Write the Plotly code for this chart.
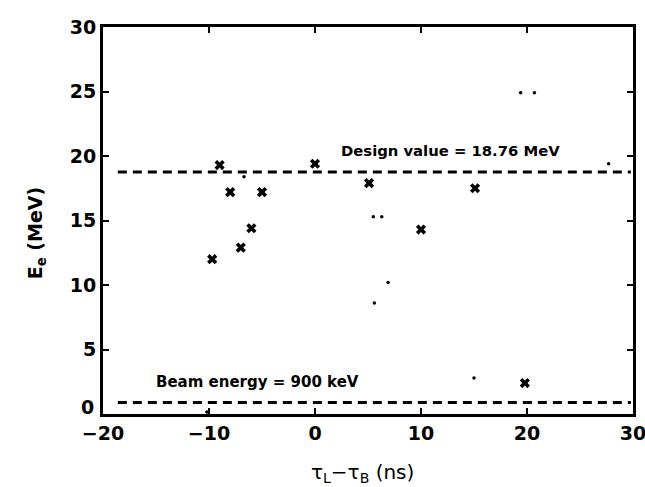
import plotly.graph_objects as go

# Data
cross_x = [-9.7, -9.0, -8.0, -7.0, -6.0, -5.0, 0.0, 5.1, 10.0, 15.1, 19.8]
cross_y = [12.0, 19.3, 17.2, 12.9, 14.4, 17.2, 19.4, 17.9, 14.3, 17.5, 2.4]
dot_x = [5.5, 6.3, 6.9, 5.6, 15.0, 19.4, 20.7, 27.7, -6.7, -10.2]
dot_y = [15.3, 15.3, 10.2, 8.6, 2.8, 24.9, 24.9, 19.4, 18.4, 0.15]
design_value = 18.76
beam_energy = 0.9
line_x = [-18.6, 29.8]
x_ticks = [-20, -10, 0, 10, 20, 30]
y_ticks = [0, 5, 10, 15, 20, 25, 30]

fig = go.Figure()
fig.add_trace(go.Scatter(x=line_x, y=[design_value] * 2, mode="lines",
                         line=dict(color="black", width=3, dash="9px,6px"), hoverinfo="skip"))
fig.add_trace(go.Scatter(x=line_x, y=[beam_energy] * 2, mode="lines",
                         line=dict(color="black", width=3, dash="9px,6px"), hoverinfo="skip"))
fig.add_trace(go.Scatter(x=cross_x, y=cross_y, mode="markers",
                         marker=dict(symbol="x", size=9, color="black", line=dict(width=0))))
fig.add_trace(go.Scatter(x=dot_x, y=dot_y, mode="markers",
                         marker=dict(symbol="circle", size=3.5, color="black")))

fig.add_annotation(x=12.8, y=20.4, text="<b>Design value = 18.76 MeV</b>", showarrow=False,
                   font=dict(size=14.8, family="DejaVu Sans", color="black"))
fig.add_annotation(x=-5.4, y=2.5, text="<b>Beam energy = 900 keV</b>", showarrow=False,
                   font=dict(size=15, family="DejaVu Sans", color="black"))
# axis titles placed as annotations to match their positions
fig.add_annotation(xref="paper", yref="paper", x=-0.153, y=0.468, textangle=-90,
                   text="<b>E<sub>e</sub> (MeV)</b>", showarrow=False,
                   font=dict(size=19, family="DejaVu Sans", color="black"))
fig.add_annotation(xref="paper", yref="paper", x=0.49, y=-0.152, yanchor="middle",
                   text="τ<sub>L</sub>−τ<sub>B</sub> (ns)", showarrow=False,
                   font=dict(size=20, family="DejaVu Sans", color="black"))
# the "0" y label sits slightly raised in the reference
fig.add_annotation(xref="paper", yref="y", x=-0.013, xanchor="right", y=y_ticks[0], yshift=7,
                   text=str(y_ticks[0]), showarrow=False,
                   font=dict(size=19, family="DejaVu Sans", color="black", weight="bold"))

axis_common = dict(showgrid=False, zeroline=False, showline=True, linewidth=3, linecolor="black",
                   mirror="ticks", ticks="inside", ticklen=6, tickwidth=2, tickcolor="black",
                   automargin=False, ticklabeloverflow="allow",
                   tickfont=dict(size=19, family="DejaVu Sans", color="black", weight="bold"))

fig.update_xaxes(range=[-20, 30], tickvals=x_ticks, ticktext=[str(v).replace("-", "−") for v in x_ticks],
                 **axis_common)
fig.update_yaxes(range=[0, 30], tickvals=y_ticks,
                 ticktext=[""] + [str(v) for v in y_ticks[1:]], **axis_common)

fig.update_layout(width=645, height=487, margin=dict(l=103, r=12, t=27, b=73),
                  plot_bgcolor="white", paper_bgcolor="white", showlegend=False)

fig.write_html("out.html")
